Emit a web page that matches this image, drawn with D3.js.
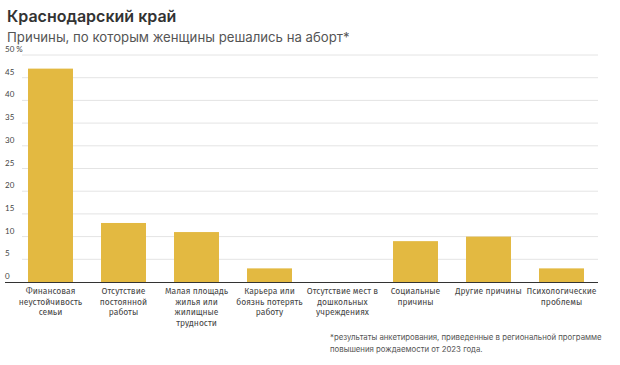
<!DOCTYPE html>
<html>
<head>
<meta charset="utf-8">
<script src="https://cdnjs.cloudflare.com/ajax/libs/d3/7.8.5/d3.min.js"></script>
<style>
  html, body { margin: 0; padding: 0; background: #fff; }
  svg { display: block; }
</style>
</head>
<body>
<div id="chart"></div>
<script>
// data
const categories = [
  ["Финансовая", "неустойчивость", "семьи"],
  ["Отсутствие", "постоянной", "работы"],
  ["Малая площадь", "жилья или", "жилищные", "трудности"],
  ["Карьера или", "боязнь потерять", "работу"],
  ["Отсутствие мест в", "дошкольных", "учреждениях"],
  ["Социальные", "причины"],
  ["Другие причины"],
  ["Психологические", "проблемы"]
];
const values = [47, 13, 11, 3, 0, 9, 10, 3];
const yTicks = [0, 5, 10, 15, 20, 25, 30, 35, 40, 45, 50];

const width = 620, height = 365;

let svg = d3.select("#chart")
            .append("svg")
            .attr("width", width)
            .attr("height", height);

// titles
svg.append("text")
   .attr("x", 7).attr("y", 22)
   .attr("font-family", "Inter, 'Noto Sans', sans-serif")
   .attr("font-size", 16)
   .attr("font-weight", 600)
   .attr("fill", "#333")
   .text("Краснодарский край");

svg.append("text")
   .attr("x", 7).attr("y", 42)
   .attr("font-family", "Inter, 'Noto Sans', sans-serif")
   .attr("font-size", 13.2)
   .attr("fill", "#555")
   .text("Причины, по которым женщины решались на аборт*");

// scales
let x = d3.scaleBand()
          .domain(d3.range(categories.length))
          .range([14, 598])
          .paddingInner(0.384)
          .paddingOuter(0.192);

let y = d3.scaleLinear()
          .domain([0, 50])
          .range([282, 55]);

// grid lines
svg.append("g")
   .selectAll("line")
   .data(yTicks.filter(d => d > 0))
   .join("line")
   .attr("x1", 22).attr("x2", 598)
   .attr("y1", d => y(d)).attr("y2", d => y(d))
   .attr("stroke", "#e4e4e4")
   .attr("stroke-width", 1);

// tick labels
svg.append("g")
   .selectAll("text")
   .data(yTicks)
   .join("text")
   .attr("x", 5)
   .attr("y", d => y(d) - 3)
   .attr("font-family", "Lato, 'Noto Sans', sans-serif")
   .attr("font-size", 8)
   .attr("fill", "#444")
   .text(d => d === 50 ? "50 %" : d);

// bars
svg.append("g")
   .selectAll("rect")
   .data(values)
   .join("rect")
   .attr("x", (d, i) => x(i))
   .attr("y", d => y(d))
   .attr("width", x.bandwidth())
   .attr("height", d => y(0) - y(d))
   .attr("fill", "#e3b941");

// baseline
svg.append("line")
   .attr("x1", 5).attr("x2", 598)
   .attr("y1", y(0) + 0.5).attr("y2", y(0) + 0.5)
   .attr("stroke", "#333")
   .attr("stroke-width", 1.2);

// category labels
let labels = svg.append("g")
   .selectAll("text")
   .data(categories)
   .join("text")
   .attr("x", (d, i) => x(i) + x.bandwidth() / 2)
   .attr("y", 294)
   .attr("text-anchor", "middle")
   .attr("font-family", "'Fira Sans', Lato, 'Noto Sans', sans-serif")
   .attr("font-size", 8.5)
   .attr("fill", "#444");

labels.selectAll("tspan")
   .data(d => d)
   .join("tspan")
   .attr("x", function() { return d3.select(this.parentNode).attr("x"); })
   .attr("dy", (d, i) => i === 0 ? 0 : 10.5)
   .text(d => d);

// footnote
const note = svg.append("g")
   .attr("font-family", "Inter, 'Noto Sans', sans-serif")
   .attr("font-size", 7.8)
   .attr("fill", "#555");

note.append("text")
   .attr("x", 330).attr("y", 340)
   .text("*результаты анкетирования, приведенные в региональной программе");

note.append("text")
   .attr("x", 330).attr("y", 352)
   .text("повышения рождаемости от 2023 года.");
</script>
</body>
</html>
